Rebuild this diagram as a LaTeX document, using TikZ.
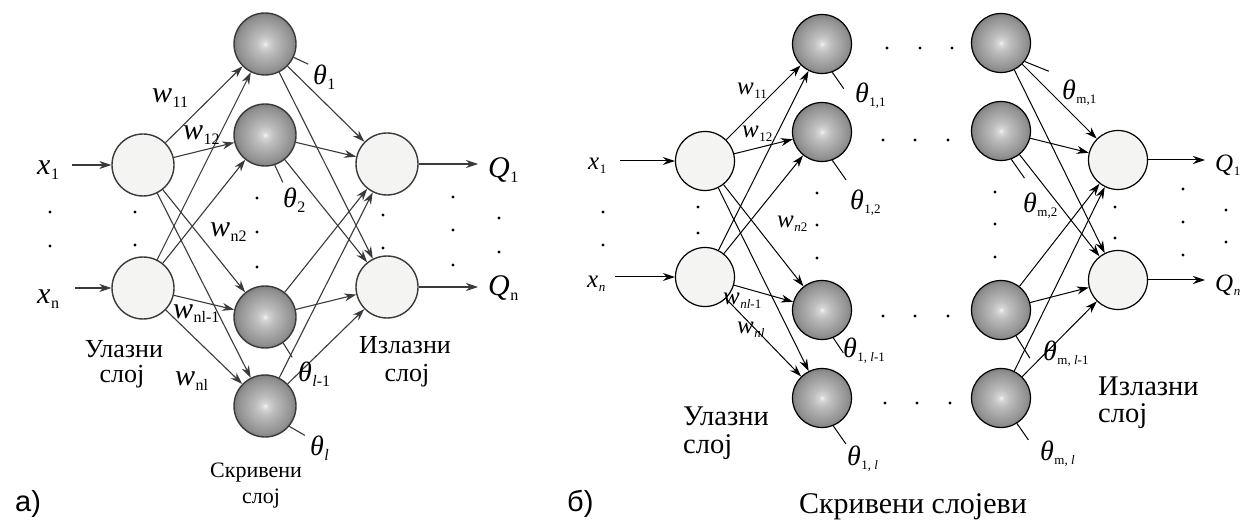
\documentclass[tikz,border=0pt]{standalone}
\usepackage{fontspec}
\IfFontExistsTF{LiberationSerif-Regular.ttf}{%
  \newfontfamily\serfam{LiberationSerif}[Extension=.ttf,UprightFont=*-Regular,ItalicFont=*-Italic,BoldFont=*-Bold,BoldItalicFont=*-BoldItalic]%
}{%
  \newfontfamily\serfam{DejaVu Serif}%
}
\newfontfamily\sansf{Liberation Sans}
\usetikzlibrary{arrows.meta}
\definecolor{shA}{HTML}{F4F4F4}
\definecolor{shB}{HTML}{D6D6D6}
\definecolor{shC}{HTML}{BEBEBE}
\definecolor{shD}{HTML}{A6A6A6}
\definecolor{shE}{HTML}{909090}
\definecolor{shF}{HTML}{808080}
\definecolor{lineA}{HTML}{3A3A3A}
\definecolor{fillIO}{HTML}{F4F4F2}
\pgfdeclareradialshading{hidshade}{\pgfpointorigin}{color(0bp)=(shA); color(2.5bp)=(shB); color(7.5bp)=(shC); color(15bp)=(shD); color(22bp)=(shE); color(25bp)=(shF); color(50bp)=(shF)}
\newcommand{\mv}[2]{\textit{#1}\kern0.5pt\raisebox{-5pt}{\fontsize{16}{16}\selectfont #2}}
\newcommand{\mvb}[2]{\textit{#1}\kern0.5pt\raisebox{-4pt}{\fontsize{13}{13}\selectfont #2}}
\tikzset{
  inA/.style={circle, draw=lineA, fill=fillIO, line width=1.4pt, minimum size=62pt, inner sep=0pt},
  hidA/.style={circle, draw=lineA, shading=hidshade, line width=1.4pt, minimum size=62pt, inner sep=0pt},
  inB/.style={circle, draw=black, fill=fillIO, line width=1.2pt, minimum size=59pt, inner sep=0pt},
  hidB/.style={circle, draw=black, shading=hidshade, line width=1.2pt, minimum size=59pt, inner sep=0pt},
  arrA/.style={draw=lineA, line width=1.1pt, -{Stealth[length=12pt,width=8pt]}},
  lnA/.style={draw=lineA, line width=1.1pt},
  arrB/.style={draw=black, line width=1pt, -{Stealth[length=12pt,width=8pt]}},
  lnB/.style={draw=black, line width=1pt},
  dotnode/.style={circle, fill=black, inner sep=0pt, minimum size=3.2pt},
  lab/.style={font=\serfam\fontsize{30}{30}\selectfont, inner sep=0pt, anchor=base west},
  labB/.style={font=\serfam\fontsize{25}{25}\selectfont, inner sep=0pt, anchor=base west},
  thl/.style={font=\serfam\fontsize{28}{28}\selectfont, inner sep=0pt, anchor=base west},
  txtA/.style={font=\serfam\fontsize{26}{26}\selectfont, inner sep=0pt, anchor=base},
  txtS/.style={font=\serfam\fontsize{22}{22}\selectfont, inner sep=0pt, anchor=base},
  txtB/.style={font=\serfam\fontsize{28.5}{28.5}\selectfont, inner sep=0pt, anchor=base west},
}
\begin{document}
\begin{tikzpicture}[x=1pt,y=-1pt]
\useasboundingbox (0,0) rectangle (1250,521);
\fill[white] (0,0) rectangle (1250,521);

% ---------------- part a ----------------
\node[inA] (aI1) at (143,165) {};
\node[inA] (aI2) at (143,288) {};
\node[hidA] (aH1) at (265,44) {};
\node[hidA] (aH2) at (265,135) {};
\node[hidA] (aH3) at (265,317) {};
\node[hidA] (aH4) at (265,406) {};
\node[inA] (aO1) at (387,164) {};
\node[inA] (aO2) at (387,287) {};

\coordinate (ax1s) at (72,165);
\coordinate (axns) at (75,288);
\coordinate (aq1e) at (478,164);
\coordinate (aqne) at (478,287);
\draw[arrA] (ax1s) -- (aI1);
\draw[arrA] (axns) -- (aI2);
\draw[arrA] (aO1) -- (aq1e);
\draw[arrA] (aO2) -- (aqne);

\foreach \i in {aI1,aI2}
  \foreach \h in {aH1,aH2,aH3,aH4}
    \draw[arrA] (\i) -- (\h);
\foreach \h in {aH1,aH2,aH3,aH4}
  \foreach \o in {aO1,aO2}
    \draw[arrA] (\h) -- (\o);

% bias ticks a
\draw[lnA] (aH1.-25) -- ++(-25:16pt);
\draw[lnA] (aH2.-72) -- ++(-65:19pt);
\draw[lnA] (aH3.-55) -- ++(-58:17pt);
\draw[lnA] (aH4.-40) -- ++(-30:18pt);

\foreach \p [count=\k] in {(50,212),(50,246),(135,212),(135,245),(257,198),(257,232),(257,267),(383,215),(383,248),(453,197),(453,230),(453,265),(499,218),(499,252)}
  \node[dotnode] (da\k) at \p {};

\node[lab] (lax1) at (37,175) {\mv{x}{1}};
\node[lab] (laxn) at (37,304) {\mv{x}{n}};
\node[lab] (law11) at (152,103) {\mv{w}{11}};
\node[lab] (law12) at (183,140) {\mv{w}{12}};
\node[lab] (lawn2) at (210,237) {\mv{w}{n2}};
\node[lab] (lawnl1) at (173,318) {\mv{w}{nl-1}};
\node[lab] (lawnl) at (175,385) {\mv{w}{nl}};
\node[thl] (lat1) at (313,85) {\mv{θ}{1}};
\node[thl] (lat2) at (283,208) {\mv{θ}{2}};
\node[thl] (latl1) at (298,381) {\mv{θ}{\textit{l}-1}};
\node[thl] (latl) at (310,455) {\mv{θ}{\textit{l}}};
\node[lab] (laq1) at (488,178) {\mv{Q}{1}};
\node[lab] (laqn) at (488,296) {\mv{Q}{n}};

\node[txtA] (laul1) at (124,357) {Улазни};
\node[txtA] (laul2) at (122,382) {слој};
\node[txtA] (laiz1) at (405,353) {Излазни};
\node[txtA] (laiz2) at (407,381) {слој};
\node[txtS] (lask1) at (256,477) {Скривени};
\node[txtS] (lask2) at (261,503) {слој};
\node[font=\sansf\fontsize{29}{29}\selectfont, inner sep=0pt, anchor=base west] (lapa) at (15,511) {a)};

% ---------------- part b ----------------
\node[inB] (bI1) at (705,161) {};
\node[inB] (bI2) at (705,277) {};
\node[hidB] (bH11) at (822,44) {};
\node[hidB] (bH12) at (822,132) {};
\node[hidB] (bH13) at (822,310) {};
\node[hidB] (bH14) at (822,398) {};
\node[hidB] (bH21) at (1001,43) {};
\node[hidB] (bH22) at (1001,131) {};
\node[hidB] (bH23) at (1001,310) {};
\node[hidB] (bH24) at (1001,398) {};
\node[inB] (bO1) at (1118,160) {};
\node[inB] (bO2) at (1118,280) {};

\coordinate (bx1s) at (620,161);
\coordinate (bxns) at (615,277);
\coordinate (bq1e) at (1205,160);
\coordinate (bqne) at (1205,280);
\draw[arrB] (bx1s) -- (bI1);
\draw[arrB] (bxns) -- (bI2);
\draw[arrB] (bO1) -- (bq1e);
\draw[arrB] (bO2) -- (bqne);

\foreach \i in {bI1,bI2}
  \foreach \h in {bH11,bH12,bH13,bH14}
    \draw[arrB] (\i) -- (\h);
\foreach \h in {bH21,bH22,bH23,bH24}
  \foreach \o in {bO1,bO2}
    \draw[arrB] (\h) -- (\o);

% bias ticks b
\draw[lnB] (bH11.-70) -- ++(-55:20pt);
\draw[lnB] (bH12.-70) -- ++(-55:24pt);
\draw[lnB] (bH13.-68) -- ++(-56:18pt);
\draw[lnB] (bH14.-68) -- ++(-55:22pt);
\draw[lnB] (bH21.-38) -- ++(-22:26pt);
\draw[lnB] (bH22.-70) -- ++(-55:23pt);
\draw[lnB] (bH23.-60) -- ++(-58:26pt);
\draw[lnB] (bH24.-58) -- ++(-55:20pt);

\foreach \p [count=\k] in {(603,212),(603,245),(698,207),(698,233),(817,193),(817,225),(817,258),(995,192),(995,224),(995,257),(1115,207),(1115,238),(1183,189),(1183,222),(1183,255),(1226,210),(1226,242),(887,48),(920,48),(952,48),(883,140),(915,140),(948,140),(883,316),(915,316),(948,316),(885,403),(917,403),(950,403)}
  \node[dotnode] (db\k) at \p {};

\node[labB] (lbx1) at (588,170) {\mvb{x}{1}};
\node[labB] (lbxn) at (587,288) {\mvb{x}{\textit{n}}};
\node[labB] (lbw11) at (737,95) {\mvb{w}{11}};
\node[labB] (lbw12) at (742,138) {\mvb{w}{12}};
\node[labB] (lbwn2) at (777,228) {\mvb{w}{\textit{n}2}};
\node[labB] (lbwnl1) at (723,305) {\mvb{w}{\textit{nl}-1}};
\node[labB] (lbwnl) at (737,333) {\mvb{w}{\textit{nl}}};
\node[thl] (lbt11) at (855,103) {\mvb{θ}{1,1}};
\node[thl] (lbt12) at (850,210) {\mvb{θ}{1,2}};
\node[thl] (lbt1l1) at (843,357) {\mvb{θ}{1, \textit{l}-1}};
\node[thl] (lbt1l) at (847,465) {\mvb{θ}{1, \textit{l}}};
\node[thl] (lbtm1) at (1062,100) {\mvb{θ}{m,1}};
\node[thl] (lbtm2) at (1023,213) {\mvb{θ}{m,2}};
\node[thl] (lbtml1) at (1043,360) {\mvb{θ}{m, \textit{l}-1}};
\node[thl] (lbtml) at (1040,460) {\mvb{θ}{m, \textit{l}}};
\node[labB] (lbq1) at (1215,172) {\mvb{Q}{1}};
\node[labB] (lbqn) at (1215,292) {\mvb{Q}{\textit{n}}};

\node[txtB] (lbul1) at (683,425) {Улазни};
\node[txtB] (lbul2) at (683,453) {слој};
\node[txtB] (lbiz1) at (1098,395) {Излазни};
\node[txtB] (lbiz2) at (1098,422) {слој};
\node[font=\serfam\fontsize{30}{30}\selectfont, inner sep=0pt, anchor=base] (lbsk) at (913,513) {Скривени слојеви};
\node[font=\sansf\fontsize{29}{29}\selectfont, inner sep=0pt, anchor=base west] (lbpb) at (567,511) {б)};
\end{tikzpicture}
\end{document}
